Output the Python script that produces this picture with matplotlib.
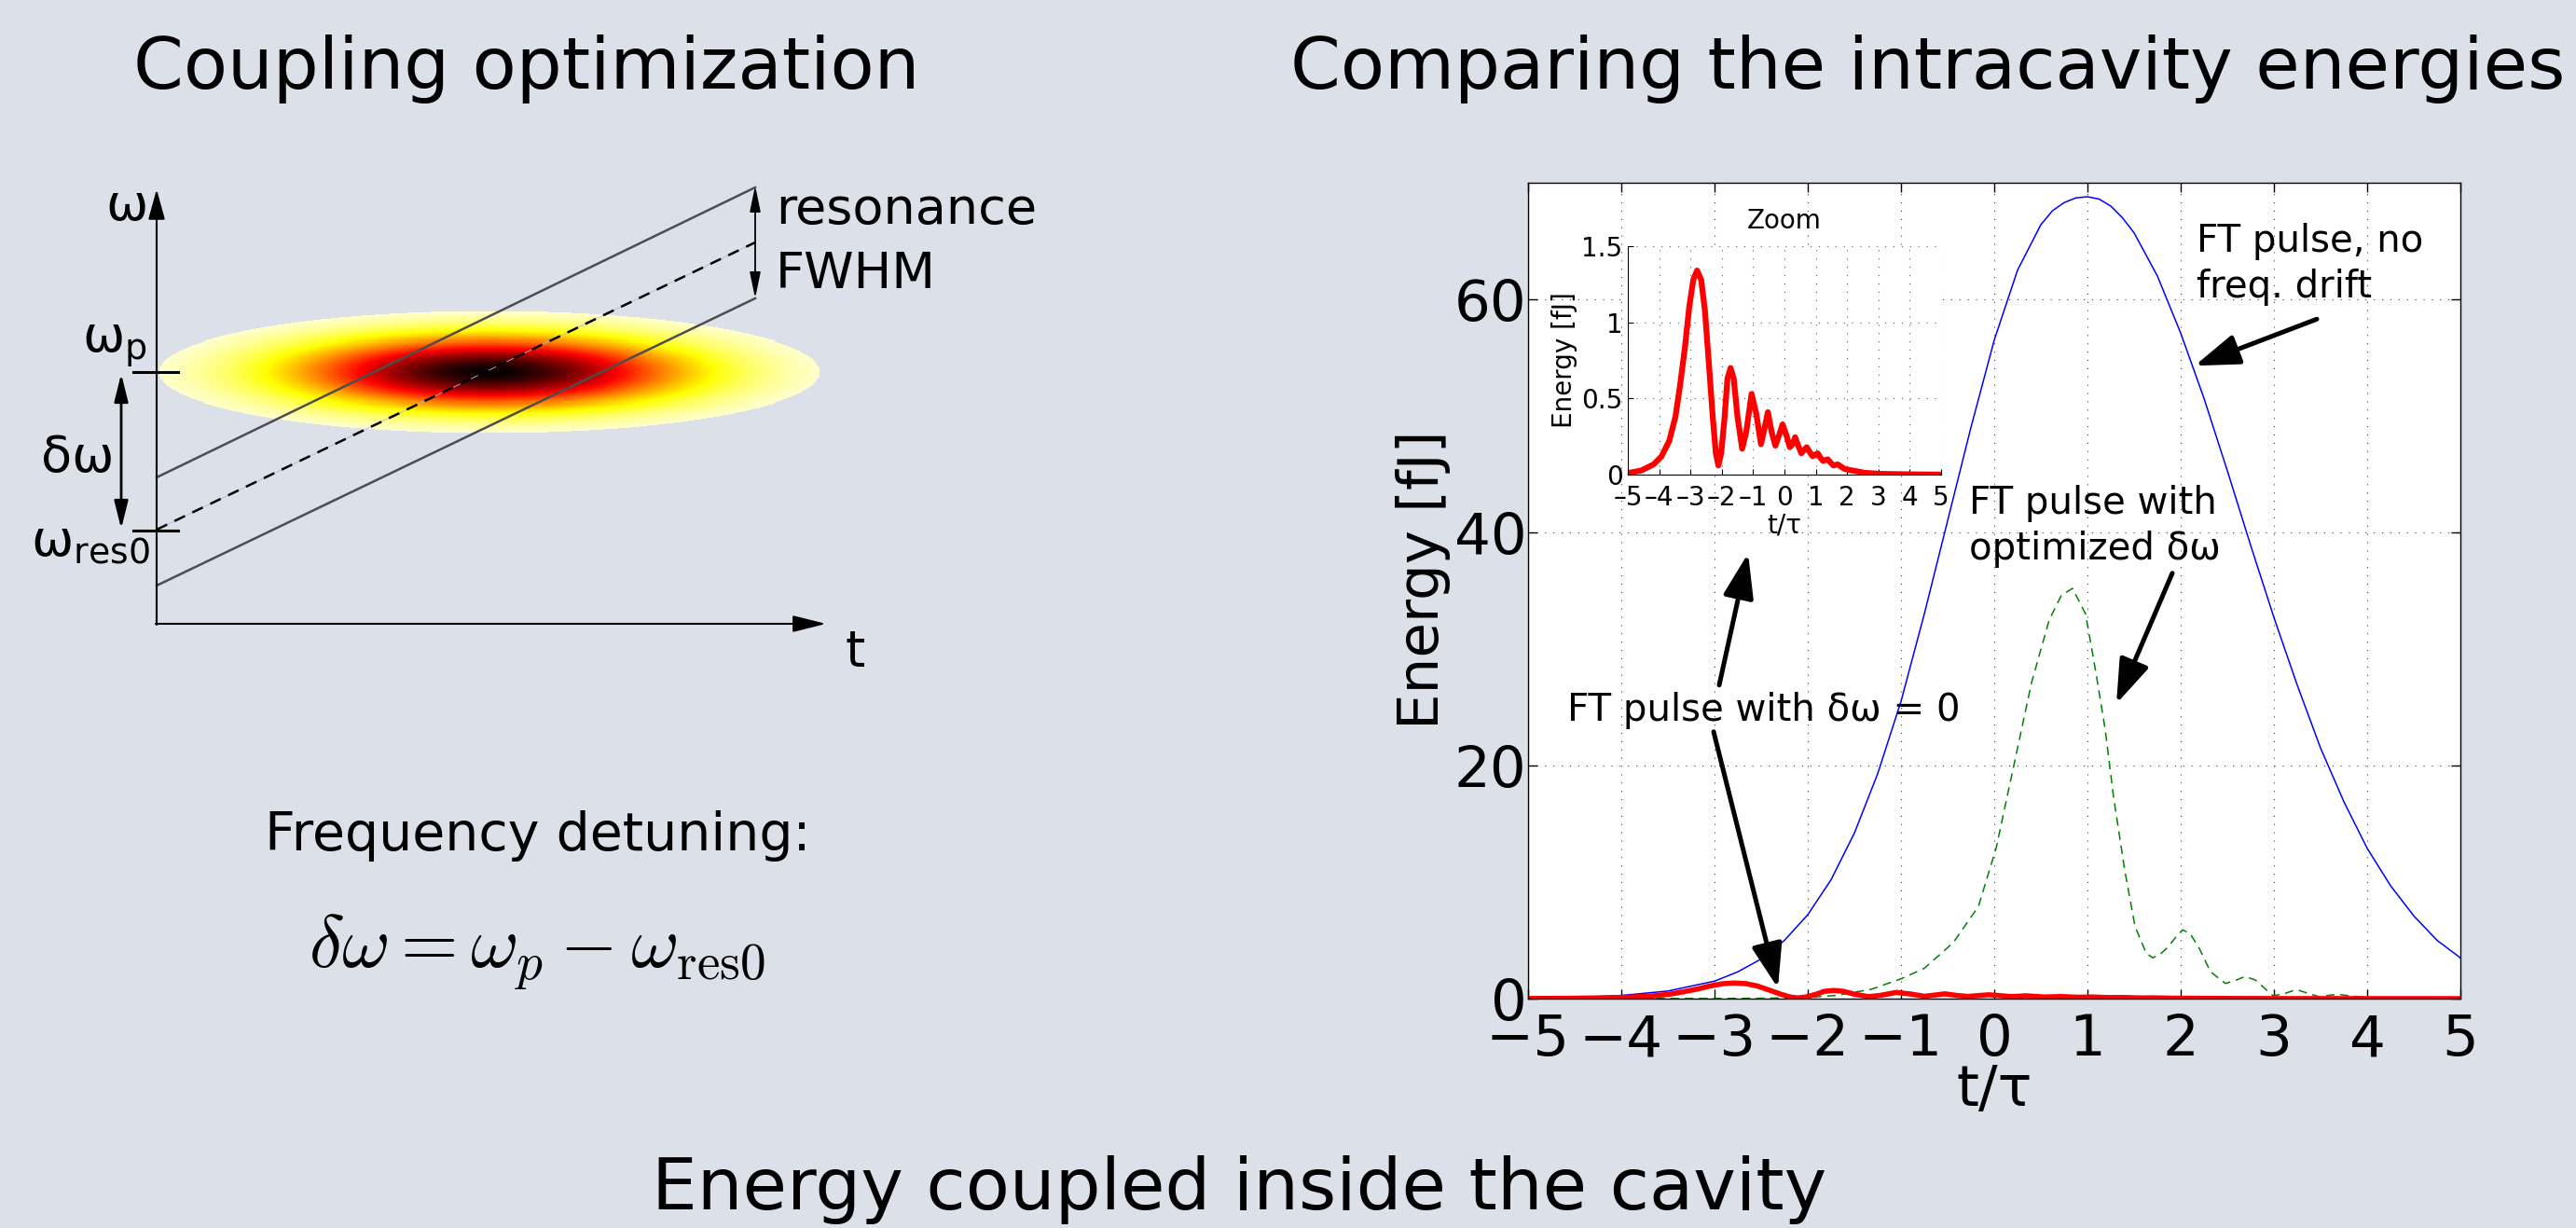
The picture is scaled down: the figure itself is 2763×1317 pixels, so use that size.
import numpy as np
import matplotlib
matplotlib.use("Agg")
import matplotlib.pyplot as plt
from matplotlib.ticker import FormatStrFormatter

W, H, DPI = 2763, 1317, 100
BG = "#dce0e9"

# FT pulse, no frequency drift (blue)
blue_t = [-5, -4.5, -4, -3.5, -3, -2.75, -2.5, -2.25, -2, -1.75, -1.5, -1.25,
          -1, -0.75, -0.5, -0.25, 0, 0.25, 0.5, 0.625, 0.75, 0.875, 1, 1.125,
          1.25, 1.375, 1.5, 1.75, 2, 2.25, 2.5, 2.75, 3, 3.25, 3.5, 3.75, 4,
          4.25, 4.5, 4.75, 5]
blue_e = [0.04, 0.1, 0.27, 0.65, 1.5, 2.3, 3.4, 5.0, 7.2, 10.2, 14.2, 19.3,
          25.5, 33, 41, 49, 56.5, 62.5, 66.4, 67.6, 68.3, 68.7, 68.8, 68.6,
          68.0, 67.0, 65.7, 62.0, 57.1, 51.5, 45.3, 38.9, 32.7, 26.9, 21.5,
          16.9, 12.9, 9.7, 7.1, 5.0, 3.5]

# FT pulse with optimized detuning (green, dashed)
green_t = [-5, -3, -2.5, -2, -1.7, -1.32, -1.0, -0.75, -0.44, -0.17, 0.02,
           0.21, 0.40, 0.59, 0.72, 0.84, 0.98, 1.09, 1.19, 1.28, 1.40, 1.51,
           1.63, 1.70, 1.78, 1.86, 1.94, 2.02, 2.1, 2.2, 2.32, 2.48, 2.6, 2.69,
           2.8, 2.99, 3.1, 3.24, 3.35, 3.49, 3.6, 3.7, 3.8, 4.0, 4.5, 5.0]
green_e = [0.0, 0.01, 0.03, 0.1, 0.27, 0.8, 1.7, 2.6, 4.8, 7.9, 12.9,
           20, 27.1, 32.5, 34.6, 35.2, 33, 28, 23.1, 17.3, 11, 6.2,
           3.9, 3.5, 3.8, 4.4, 5.2, 5.9, 5.6, 4.3, 2.3, 1.3, 1.6, 1.9,
           1.6, 0.25, 0.4, 0.77, 0.5, 0.15, 0.3, 0.36, 0.25, 0.1, 0.04, 0.0]

# FT pulse with zero detuning (red), also shown in the zoom inset
red_t = [-5, -4.57, -4.18, -3.93, -3.68, -3.48, -3.33, -3.18, -3.04, -2.91,
         -2.79, -2.66, -2.54, -2.42, -2.29, -2.19, -2.11, -2.02, -1.91, -1.82,
         -1.72, -1.62, -1.50, -1.35, -1.22, -1.05, -0.90, -0.75, -0.62, -0.53,
         -0.41, -0.29, -0.17, -0.06, 0.06, 0.17, 0.26, 0.34, 0.44, 0.54, 0.62,
         0.71, 0.80, 0.90, 0.98, 1.06, 1.15, 1.23, 1.30, 1.38, 1.47, 1.56,
         1.70, 1.92, 2.17, 2.57, 3.07, 4.0, 5.0]
red_e = [0.01, 0.027, 0.067, 0.118, 0.22, 0.38, 0.59, 0.83, 1.10, 1.28,
         1.34, 1.28, 1.08, 0.75, 0.38, 0.14, 0.06, 0.14, 0.38, 0.63,
         0.70, 0.63, 0.38, 0.17, 0.28, 0.53, 0.40, 0.20, 0.32, 0.41,
         0.28, 0.19, 0.26, 0.33, 0.26, 0.18, 0.20, 0.245, 0.19, 0.14, 0.16,
         0.18, 0.15, 0.12, 0.13, 0.14, 0.11, 0.09, 0.095, 0.10, 0.08, 0.06,
         0.067, 0.037, 0.027, 0.012, 0.005, 0.002, 0.0]

x_ticks = [-5, -4, -3, -2, -1, 0, 1, 2, 3, 4, 5]
y_ticks = [0, 20, 40, 60]
inset_y_ticks = [0, 0.5, 1, 1.5]
inset_x_labels = ["–5", "–4", "–3", "–2", "–1", "0", "1", "2", "3", "4", "5"]


def arrow(ax, tail, head, lw, hl, hw, style="-|>", color="k", ms=10):
    ax.annotate(
        "",
        xy=head,
        xytext=tail,
        arrowprops=dict(
            arrowstyle=f"{style},head_length={hl},head_width={hw}",
            mutation_scale=ms,
            lw=lw,
            color=color,
            shrinkA=0,
            shrinkB=0,
        ),
    )


def draw_diagram(ax):
    # schematic drawn in figure pixels (y going down)
    cx, cy, a, b = 525, 399, 355, 66
    u, w = np.meshgrid(np.linspace(-1, 1, 600), np.linspace(-1, 1, 130))
    r2 = u**2 + w**2
    img = np.ma.masked_where(r2 > 1, np.exp(-r2 / (2 * 0.41**2)))
    cmap = plt.get_cmap("hot_r").copy()
    cmap.set_bad(alpha=0)
    ax.imshow(
        img, cmap=cmap, vmin=0, vmax=1,
        extent=(cx - a, cx + a, cy + b, cy - b),
        aspect="auto", interpolation="nearest", zorder=1,
    )

    x0, x1 = 168, 810
    for y0, y1 in [(512, 201), (628, 320)]:
        ax.plot([x0, x1], [y0, y1], color="#4d4d4d", lw=1.8, zorder=2)
    ax.plot([x0, x1], [568, 260], color="#b4b4e6", lw=0.6, zorder=2)
    ax.plot([x0, x1], [568, 260], color="k", lw=1.8, ls=(0, (5, 3.5)), zorder=3)

    # axes of the sketch
    arrow(ax, (168, 670), (168, 203), lw=1.5, hl=2.0, hw=0.55)
    arrow(ax, (167, 669), (886, 669), lw=1.5, hl=2.2, hw=0.55)

    # FWHM and detuning arrows
    arrow(ax, (810, 320), (810, 199), lw=1.3, hl=1.7, hw=0.35, style="<|-|>")
    arrow(ax, (130, 567), (130, 401), lw=2.0, hl=1.8, hw=0.45, style="<|-|>")

    for yy in [399, 569]:
        ax.plot([143, 191], [yy, yy], color="k", lw=2.2, zorder=3)

    kw = dict(fontsize=39, va="baseline", color="k")
    ax.text(136, 236, "ω", ha="center", **kw)
    ax.text(906, 714, "t", ha="left", **kw)
    ax.text(88, 378, r"$\mathregular{ω_p}$", ha="left", **kw)
    ax.text(33, 596, r"$\mathregular{ω_{res0}}$", ha="left", **kw)
    ax.text(44, 506, "δω", ha="left", **kw)
    ax.text(832, 240, "resonance", ha="left", **kw)
    ax.text(832, 309, "FWHM", ha="left", **kw)

    ax.text(577, 912, "Frequency detuning:", ha="center", va="baseline", fontsize=41)
    ax.text(
        576, 1038, r"$\delta\omega = \omega_p - \omega_{\rm res0}$",
        ha="center", va="baseline", fontsize=57, math_fontfamily="cm",
    )

    # slide titles
    tkw = dict(ha="center", va="baseline", fontsize=55.5, color="k")
    ax.text(565, 95, "Coupling optimization", **tkw)
    ax.text(2068, 95, "Comparing the intracavity energies", **tkw)
    ax.text(1329, 1297, "Energy coupled inside the cavity", **tkw)

    ax.set_xlim(0, W)
    ax.set_ylim(H, 0)
    ax.axis("off")


def draw_main(ax):
    ax.plot(blue_t, blue_e, color="#0000ff", lw=1.1)
    ax.plot(green_t, green_e, color="#008000", lw=1.1, ls=(0, (6, 4)))
    ax.plot(red_t, red_e, color="#ff0000", lw=4.0)

    ax.set_xlim(-5, 5)
    ax.set_ylim(0, 70)
    ax.set_xticks(x_ticks)
    ax.set_yticks(y_ticks)
    ax.grid(True, color="0.25", lw=0.8, ls=(0, (1, 7)))
    ax.tick_params(direction="in", top=True, right=True, length=7, width=1, labelsize=44)
    ax.tick_params(axis="x", pad=11)
    ax.tick_params(axis="y", pad=1)
    for sp in ax.spines.values():
        sp.set_linewidth(1.0)

    ax.set_xlabel("t/τ", fontsize=44)
    ax.xaxis.set_label_coords(0.5, -0.079)
    ax.set_ylabel("Energy [fJ]", fontsize=44)
    ax.yaxis.set_label_coords(-0.083, 0.514)

    tk = dict(fontsize=29, color="k", linespacing=1.3)
    ax.text(2.17, 63.0, "FT pulse, no\nfreq. drift", ha="left", va="center", **tk)
    ax.text(-0.27, 40.5, "FT pulse with\noptimized δω", ha="left", va="center", **tk)
    ax.text(-4.58, 23.8, "FT pulse with δω = 0", ha="left", va="baseline", **tk)

    akw = dict(lw=3.6, hl=1.45, hw=0.5, ms=20)
    arrow(ax, (3.46, 58.3), (2.15, 54.3), **akw)
    arrow(ax, (1.91, 36.5), (1.31, 25.3), **akw)
    arrow(ax, (-2.95, 26.9), (-2.64, 38.2), **akw)
    arrow(ax, (-3.01, 22.9), (-2.32, 0.9), **akw)


def draw_inset(ax):
    ax.plot(red_t, red_e, color="#ff0000", lw=4.5)
    ax.set_xlim(-5, 5)
    ax.set_ylim(0, 1.5)
    ax.set_xticks(x_ticks, inset_x_labels)
    ax.set_yticks(inset_y_ticks)
    ax.yaxis.set_major_formatter(FormatStrFormatter("%g"))
    ax.grid(True, color="0.35", lw=0.8, ls=(0, (1, 7)))
    ax.spines[["top", "right"]].set_visible(False)
    ax.tick_params(direction="in", length=4, labelsize=20)
    ax.tick_params(axis="x", pad=8)
    ax.tick_params(axis="y", pad=4)
    ax.set_title("Zoom", fontsize=20, pad=14)
    ax.set_xlabel("t/τ", fontsize=20)
    ax.xaxis.set_label_coords(0.5, -0.165)
    ax.set_ylabel("Energy [fJ]", fontsize=20)
    ax.yaxis.set_label_coords(-0.16, 0.5)


fig = plt.figure(figsize=(W / DPI, H / DPI), dpi=DPI, facecolor=BG)

ax_d = fig.add_axes([0, 0, 1, 1], zorder=0)
ax_d.patch.set_visible(False)
draw_diagram(ax_d)

ax_m = fig.add_axes([1639 / W, 1 - 1071 / H, 1000 / W, 875 / H], zorder=2)
draw_main(ax_m)

ax_i = fig.add_axes([1746 / W, 1 - 509 / H, 336 / W, 245 / H], zorder=3)
draw_inset(ax_i)

fig.savefig("out.png", dpi=DPI, facecolor=BG)
